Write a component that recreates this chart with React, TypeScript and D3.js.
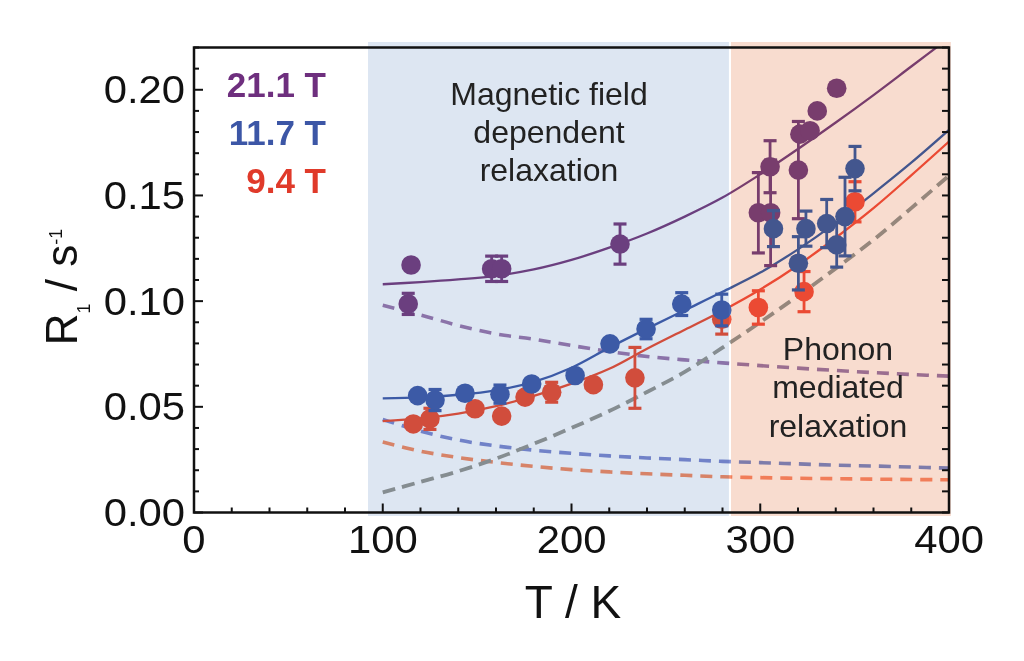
import React from 'react';
import * as d3 from 'd3';

const W = 1024;
const H = 661;
const X0 = 194, X1 = 949, Y0 = 512.5, Y1 = 47.5;

// axes
const xMajor = [0, 100, 200, 300, 400];
const xLabels = ['0', '100', '200', '300', '400'];
const yMajor = [0, 0.05, 0.1, 0.15, 0.2];
const yLabels = ['0.00', '0.05', '0.10', '0.15', '0.20'];

// shaded regions (T)
const regionField = [92.2, 283.4];
const regionPhonon = [284.5, 401];

// fitted curves sampled at T
const fitT = [100, 120, 140, 160, 180, 200, 220, 240, 260, 280, 300, 320, 340, 360, 380, 400];
const fit211 = [0.108, 0.109, 0.1103, 0.112, 0.115, 0.1195, 0.1253, 0.132, 0.14, 0.149, 0.16, 0.172, 0.1845, 0.1975, 0.211, 0.2245];
const fit117 = [0.054, 0.0545, 0.0557, 0.0578, 0.0618, 0.0685, 0.078, 0.087, 0.0957, 0.1044, 0.1135, 0.1245, 0.137, 0.151, 0.1655, 0.181];
const fit94 = [0.0432, 0.0445, 0.0468, 0.0503, 0.0552, 0.061, 0.068, 0.0775, 0.0865, 0.0955, 0.1055, 0.117, 0.13, 0.144, 0.1595, 0.1755];
const field211 = [0.098, 0.0935, 0.0885, 0.0845, 0.082, 0.079, 0.0762, 0.0738, 0.0722, 0.0708, 0.0695, 0.0683, 0.0672, 0.0662, 0.0653, 0.0645];
const field117 = [0.044, 0.0385, 0.0343, 0.0315, 0.0295, 0.028, 0.0268, 0.0258, 0.025, 0.0242, 0.0236, 0.023, 0.0224, 0.022, 0.0215, 0.021];
const field94 = [0.0333, 0.029, 0.026, 0.0237, 0.0218, 0.0203, 0.0192, 0.0183, 0.0176, 0.0169, 0.0165, 0.0162, 0.016, 0.0158, 0.0156, 0.0155];
const phonon = [0.0095, 0.0145, 0.0195, 0.0255, 0.0325, 0.04, 0.048, 0.057, 0.0665, 0.078, 0.09, 0.1025, 0.1155, 0.129, 0.144, 0.1594];

// measured points
const T211 = [113.5, 115, 157.7, 163, 225.7, 299, 305.2, 305.5, 320.2, 321, 326.4, 330.2, 340.5];
const R211 = [0.0987, 0.1171, 0.1153, 0.1153, 0.127, 0.1418, 0.1636, 0.1418, 0.162, 0.179, 0.1806, 0.19, 0.2007];
const E211 = [0.005, 0, 0.006, 0.006, 0.0095, 0.019, 0.0123, 0.025, 0.023, 0, 0, 0, 0];

const T117 = [118.5, 127.7, 143.6, 162.1, 178.9, 201.9, 220.4, 239.5, 258.4, 279.6, 307, 320.2, 324.2, 335.2, 340.5, 344.9, 350.2];
const R117 = [0.0553, 0.0532, 0.0564, 0.056, 0.0608, 0.0648, 0.0798, 0.0868, 0.0986, 0.0958, 0.1343, 0.1179, 0.1343, 0.1367, 0.1266, 0.14, 0.1627];
const E117 = [0, 0.005, 0, 0.0043, 0, 0, 0, 0.0046, 0.0054, 0.0075, 0.0085, 0.0126, 0.0083, 0.0114, 0.0105, 0.0186, 0.0105];

const T94 = [116.2, 125, 148.9, 163, 175.4, 189.5, 211.6, 233.6, 279.6, 299, 323.2, 350.2];
const R94 = [0.0419, 0.0443, 0.0491, 0.0456, 0.0546, 0.0569, 0.0605, 0.0637, 0.0914, 0.097, 0.1045, 0.147];
const E94 = [0, 0.005, 0, 0, 0, 0.0047, 0, 0.0144, 0.007, 0.0079, 0.0095, 0.0095];

const legendLabels = ['21.1 T', '11.7 T', '9.4 T'];
const legendColors = ['#6e2f7e', '#3c56a6', '#e03a2a'];

const C_PURPLE = '#7b4686';
const C_BLUE = '#4564af';
const C_RED = '#f2553f';

const FONT = '"Liberation Sans", Arial, Helvetica, sans-serif';

const x = d3.scaleLinear().domain([0, 400]).range([X0, X1]);
const y = d3.scaleLinear().domain([0, 0.22]).range([Y0, Y1]);

const lineGen = d3
  .line<[number, number]>()
  .x((d) => x(d[0]))
  .y((d) => y(d[1]))
  .curve(d3.curveCatmullRom);

function curve(vals: number[]) {
  return lineGen(fitT.map((t, i) => [t, vals[i]] as [number, number])) || '';
}

function ErrBars({ T, R, E, color }: { T: number[]; R: number[]; E: number[]; color: string }) {
  return (
    <g stroke={color}>
      {T.map((t, i) =>
        E[i] > 0 ? (
          <g key={'e' + i}>
            <line x1={x(t)} x2={x(t)} y1={y(R[i] - E[i])} y2={y(R[i] + E[i])} strokeWidth={2.8} />
            <line x1={x(t) - 6.5} x2={x(t) + 6.5} y1={y(R[i] - E[i])} y2={y(R[i] - E[i])} strokeWidth={3.2} />
            <line x1={x(t) - 6.5} x2={x(t) + 6.5} y1={y(R[i] + E[i])} y2={y(R[i] + E[i])} strokeWidth={3.2} />
          </g>
        ) : null
      )}
    </g>
  );
}

function Dots({ T, R, color }: { T: number[]; R: number[]; color: string }) {
  return (
    <g fill={color}>
      {T.map((t, i) => (
        <circle key={'c' + i} cx={x(t)} cy={y(R[i])} r={9.8} />
      ))}
    </g>
  );
}

function SText(props: any) {
  const { x: tx, y: ty, size, anchor = 'middle', sx = 1, fill = '#111', children } = props;
  return (
    <text transform={`translate(${tx},${ty}) scale(${sx},1)`} fontSize={size} textAnchor={anchor} fill={fill} fontFamily={FONT}>
      {children}
    </text>
  );
}

export default function App() {
  const xMinor = d3.range(0, 401, 20);
  const yMinor = d3.range(0, 0.2201, 0.01);
  return (
    <svg width={W} height={H} style={{ position: 'absolute', left: 0, top: 0 }}>
      <defs>
        <clipPath id="plotclip">
          <rect x={X0} y={Y1} width={X1 - X0} height={Y0 - Y1} />
        </clipPath>
      </defs>
      <rect x={0} y={0} width={W} height={H} fill="#fff" />

      <g clipPath="url(#plotclip)" fill="none">
        <path d={curve(field211)} stroke="#a080b2" strokeWidth={3.6} strokeDasharray="12,8" />
        <path d={curve(field117)} stroke="#8290d3" strokeWidth={3.6} strokeDasharray="12,8" />
        <path d={curve(field94)} stroke="#f8916e" strokeWidth={3.6} strokeDasharray="12,8" />
        <path d={curve(phonon)} stroke="#9a9c99" strokeWidth={3.8} strokeDasharray="13,7" />
        <path d={curve(fit211)} stroke={C_PURPLE} strokeWidth={2.3} />
        <path d={curve(fit117)} stroke={C_BLUE} strokeWidth={2.3} />
        <path d={curve(fit94)} stroke={C_RED} strokeWidth={2.3} />
      </g>

      <ErrBars T={T211} R={R211} E={E211} color={C_PURPLE} />
      <Dots T={T211} R={R211} color={C_PURPLE} />
      <ErrBars T={T94} R={R94} E={E94} color={C_RED} />
      <Dots T={T94} R={R94} color={C_RED} />
      <ErrBars T={T117} R={R117} E={E117} color={C_BLUE} />
      <Dots T={T117} R={R117} color={C_BLUE} />

      {/* shaded regions blended over the data */}
      <rect
        x={x(regionField[0])}
        y={42}
        width={x(regionField[1]) - x(regionField[0])}
        height={516 - 42}
        fill="#dde6f2"
        style={{ mixBlendMode: 'multiply' }}
      />
      <rect
        x={x(regionPhonon[0])}
        y={42}
        width={x(regionPhonon[1]) - x(regionPhonon[0])}
        height={516 - 42}
        fill="#f8dccf"
        style={{ mixBlendMode: 'multiply' }}
      />

      {/* frame */}
      <rect x={X0} y={Y1} width={X1 - X0} height={Y0 - Y1} fill="none" stroke="#111" strokeWidth={2.5} />
      <g stroke="#111" strokeWidth={2}>
        {xMinor.map((t) => {
          const len = t % 100 === 0 ? 9 : 5;
          return <line key={'xt' + t} x1={x(t)} x2={x(t)} y1={Y0} y2={Y0 - len} />;
        })}
        {yMinor.map((v, i) => {
          const len = i % 5 === 0 ? 9 : 5;
          return (
            <g key={'yt' + i}>
              <line x1={X0} x2={X0 + len} y1={y(v)} y2={y(v)} />
              <line x1={X1} x2={X1 - 7} y1={y(v)} y2={y(v)} />
            </g>
          );
        })}
      </g>

      {/* tick labels */}
      {xMajor.map((t, i) => (
        <SText key={'xl' + i} x={x(t)} y={553} size={38} sx={1.1}>
          {xLabels[i]}
        </SText>
      ))}
      {yMajor.map((v, i) => (
        <SText key={'yl' + i} x={185} y={y(v) + 13.5} size={38} sx={1.1} anchor="end">
          {yLabels[i]}
        </SText>
      ))}

      {/* axis titles */}
      <text x={573} y={618} fontSize={46} textAnchor="middle" fontFamily={FONT} fill="#111">
        T / K
      </text>
      <text transform="translate(77,287) rotate(-90)" fontSize={44} textAnchor="middle" fontFamily={FONT} fill="#111">
        R
        <tspan fontSize={18} dy={13}>
          1
        </tspan>
        <tspan dy={-13}> / s</tspan>
        <tspan fontSize={18} dy={-15}>
          -1
        </tspan>
      </text>

      {/* legend */}
      {legendLabels.map((l, i) => (
        <text
          key={'lg' + i}
          x={326}
          y={97 + i * 48}
          fontSize={35}
          fontWeight="bold"
          textAnchor="end"
          fill={legendColors[i]}
          fontFamily={FONT}
        >
          {l}
        </text>
      ))}

      {/* annotations */}
      <g fontFamily={FONT} fontSize={32} fill="#222" textAnchor="middle">
        <text x={549} y={105}>Magnetic field</text>
        <text x={549} y={143}>dependent</text>
        <text x={549} y={181}>relaxation</text>
        <text x={838} y={360}>Phonon</text>
        <text x={838} y={398}>mediated</text>
        <text x={838} y={437}>relaxation</text>
      </g>
    </svg>
  );
}
